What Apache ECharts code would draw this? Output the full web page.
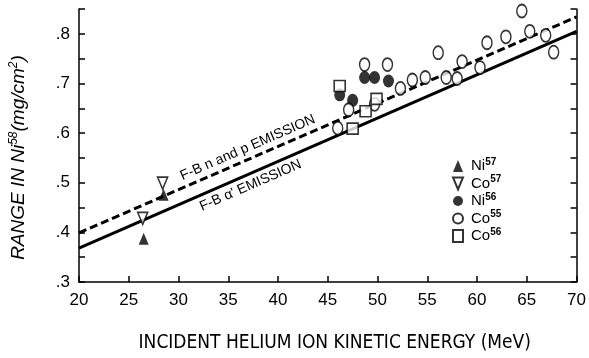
<!DOCTYPE html>
<html>
<head>
<meta charset="utf-8">
<script src="https://cdn.jsdelivr.net/npm/echarts@6/dist/echarts.min.js"></script>
<style>html,body{margin:0;padding:0;background:#fff;}#c{width:589px;height:358px;}</style>
</head>
<body>
<div id="c"></div>
<script>
// Data (x: MeV, y: mg/cm^2)
const ni57 = [[26.5, 0.387], [28.5, 0.476]];
const co57 = [[26.4, 0.428], [28.4, 0.499]];
const ni56 = [[46.2, 0.677], [47.5, 0.666], [48.7, 0.712], [49.7, 0.712], [51.1, 0.705]];
const co55 = [[46.0, 0.610], [47.1, 0.647], [48.7, 0.738], [49.7, 0.658], [51.0, 0.738], [52.3, 0.690],
              [53.5, 0.707], [54.8, 0.712], [56.1, 0.762], [56.9, 0.712], [58.0, 0.710], [58.5, 0.744],
              [60.3, 0.732], [61.0, 0.782], [62.9, 0.794], [64.5, 0.846], [65.3, 0.805], [66.9, 0.797], [67.7, 0.763]];
const co56 = [[46.2, 0.695], [47.5, 0.609], [48.8, 0.644], [49.9, 0.669]];
const fbAlphaLine = [[20, 0.368], [70, 0.805]];
const fbNPLine = [[20, 0.399], [70, 0.834]];
const legendNames = ['Ni57', 'Co57', 'Ni56', 'Co55', 'Co56'];
const xTitle = 'INCIDENT HELIUM ION KINETIC ENERGY (MeV)';

const FONT = "'Liberation Sans', Arial, sans-serif";
const NARROW = "'Liberation Sans Narrow', 'DejaVu Sans Condensed', 'Liberation Sans', sans-serif";
const chart = echarts.init(document.getElementById('c'));
const supRich = { sup: { fontSize: 10, fontWeight: 'bold', padding: [0, 0, 8, 0], fontFamily: FONT } };

const openStyle = { color: '#fff', borderColor: '#000', borderWidth: 1.6 };
const fillStyle = { color: '#000', borderColor: '#000', borderWidth: 0 };

const yCommon = {
  type: 'value', min: 0.3, max: 0.85, interval: 0.05,
  axisLine: { show: true, lineStyle: { color: '#000', width: 1.5 } },
  axisTick: { show: true, inside: true, length: 6, lineStyle: { color: '#000', width: 1.5 } },
  splitLine: { show: false }
};

chart.setOption({
  animation: false,
  backgroundColor: '#fff',
  grid: { left: 76, right: 11, top: 9, bottom: 70, containLabel: false },
  legend: {
    orient: 'vertical', left: 452, top: 157, padding: 0,
    itemWidth: 10, itemHeight: 12, itemGap: 1,
    data: legendNames.map(function (n) {
      return n === 'Co57' ? { name: n, icon: 'path://M0,0L10,0L5,12Z' } : { name: n };
    }),
    formatter: function (n) { return n.slice(0, 2) + '{sup|' + n.slice(2) + '}'; },
    textStyle: { fontSize: 15, color: '#000', fontFamily: FONT, padding: [0, 0, 0, 3], rich: supRich }
  },
  xAxis: {
    type: 'value', min: 20, max: 70, interval: 5,
    name: xTitle, nameLocation: 'middle', nameGap: 52,
    nameTextStyle: { fontSize: 19, color: '#000', fontFamily: NARROW, padding: [0, 0, 0, 14] },
    axisLine: { show: true, onZero: false, lineStyle: { color: '#000', width: 1.5 } },
    axisTick: { show: true, inside: true, length: 6, lineStyle: { color: '#000', width: 1.5 } },
    axisLabel: { fontSize: 17, color: '#000', margin: 10, fontFamily: FONT },
    splitLine: { show: false }
  },
  yAxis: [
    Object.assign({}, yCommon, {
      position: 'left',
      name: 'RANGE IN Ni{sup|58}(mg/cm{sup|2})', nameLocation: 'middle', nameGap: 50,
      nameTextStyle: { fontSize: 19, fontStyle: 'italic', color: '#000', fontFamily: FONT, padding: [0, 24, 0, 0],
        rich: { sup: { fontSize: 12, fontStyle: 'italic', padding: [0, 0, 9, 0], fontFamily: FONT } } },
      axisLabel: { fontSize: 17, color: '#000', margin: 9, fontFamily: FONT,
        formatter: function (v) { const k = Math.round(v * 100); return k % 10 === 0 ? '.' + (k / 10) : ''; } }
    }),
    Object.assign({}, yCommon, { position: 'right', axisLabel: { show: false } })
  ],
  series: [
    { name: 'F-B n and p', type: 'line', data: fbNPLine, symbol: 'none', z: 1,
      lineStyle: { color: '#000', width: 3, type: [8, 4] } },
    { name: 'F-B alpha', type: 'line', data: fbAlphaLine, symbol: 'none', z: 1,
      lineStyle: { color: '#000', width: 3 } },
    { name: 'Ni57', type: 'scatter', data: ni57, symbol: 'triangle', symbolSize: [10, 12], itemStyle: fillStyle, z: 3 },
    { name: 'Co57', type: 'scatter', data: co57, symbol: 'triangle', symbolRotate: 180, symbolSize: [10, 12], itemStyle: openStyle, z: 3 },
    { name: 'Ni56', type: 'scatter', data: ni56, symbol: 'circle', symbolSize: [11, 13], itemStyle: fillStyle, z: 3 },
    { name: 'Co55', type: 'scatter', data: co55, symbol: 'circle', symbolSize: [10, 13], itemStyle: openStyle, z: 3 },
    { name: 'Co56', type: 'scatter', data: co56, symbol: 'rect', symbolSize: [11, 11], itemStyle: openStyle, z: 3 }
  ]
});

// Line annotations placed along the fitted lines
function lineLabel(line, xCenter, offset, text) {
  const a = chart.convertToPixel({ gridIndex: 0 }, line[0]);
  const b = chart.convertToPixel({ gridIndex: 0 }, line[1]);
  const ang = Math.atan2(a[1] - b[1], b[0] - a[0]);
  const t = (xCenter - line[0][0]) / (line[1][0] - line[0][0]);
  const cx = a[0] + (b[0] - a[0]) * t, cy = a[1] + (b[1] - a[1]) * t;
  const nx = -Math.sin(ang), ny = -Math.cos(ang);
  return {
    type: 'text', x: cx + nx * offset, y: cy + ny * offset, rotation: ang,
    style: { text: text, fill: '#000', font: '14px ' + FONT, align: 'center', verticalAlign: 'middle' }
  };
}
chart.setOption({
  graphic: [
    lineLabel(fbNPLine, 37.4, 11, 'F-B n and p EMISSION'),
    lineLabel(fbAlphaLine, 36.8, -11, "F-B \u03b1' EMISSION")
  ]
});
</script>
</body>
</html>
